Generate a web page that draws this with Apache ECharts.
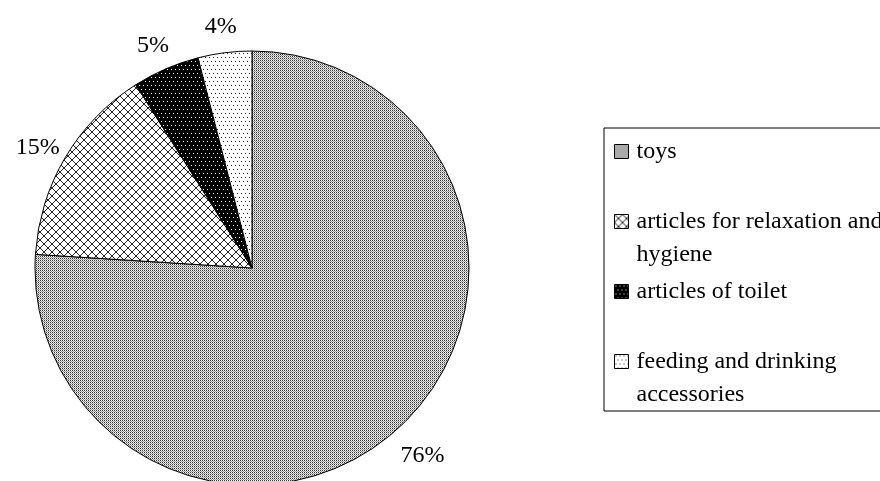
<!DOCTYPE html>
<html>
<head>
<meta charset="utf-8">
<script src="https://cdn.jsdelivr.net/npm/echarts@6/dist/echarts.min.js"></script>
<style>
  html, body { margin: 0; padding: 0; background: #fff; }
  #chart { width: 880px; height: 481px; }
</style>
</head>
<body>
<div id="chart"></div>
<script>
// chart data
var categories = ['toys', 'articles for relaxation and hygiene', 'articles of toilet', 'feeding and drinking accessories']
var shares = [76, 15, 5, 4]
var legendLabels = ['toys', 'articles for relaxation and\nhygiene', 'articles of toilet', 'feeding and drinking\naccessories']

// small canvas tiles used as fill patterns (like the old b/w office charts)
function makeTile(w, h, bg, dots) {
    var c = document.createElement('canvas')
    c.width = w
    c.height = h
    var ctx = c.getContext('2d')
    ctx.fillStyle = bg
    ctx.fillRect(0, 0, w, h)
    dots.forEach(function (d) {
        ctx.fillStyle = d[2]
        ctx.fillRect(d[0], d[1], 1, 1)
    })
    return { image: c, repeat: 'repeat' }
}

function crossTile() {
    var dots = []
    for (var i = 0; i < 8; i++) {
        dots.push([i, i, '#222'])
        dots.push([7 - i, i, '#222'])
    }
    return makeTile(8, 8, '#fff', dots)
}

var patterns = [
    makeTile(2, 2, '#fff', [[0, 0, '#333'], [1, 1, '#999'], [0, 1, '#ddd']]),
    crossTile(),
    makeTile(8, 8, '#000', [[1, 1, '#fff'], [5, 1, '#fff'], [3, 5, '#fff'], [7, 5, '#fff']]),
    makeTile(8, 8, '#fff', [[1, 1, '#222'], [5, 1, '#222'], [3, 5, '#222'], [7, 5, '#222']])
]

var chart = echarts.init(document.getElementById('chart'), null, { renderer: 'canvas' })

var pieData = categories.map(function (name, i) {
    return { name: name, value: shares[i], itemStyle: { color: patterns[i] } }
})

chart.setOption({
    animation: false,
    textStyle: { fontFamily: 'Liberation Serif' },
    legend: {
        orient: 'vertical',
        left: 604,
        top: 128,
        padding: [7, 30, 0, 10],
        borderColor: '#000',
        borderWidth: 1,
        itemWidth: 14,
        itemHeight: 14,
        itemGap: 4,
        icon: 'rect',
        itemStyle: { borderColor: '#000', borderWidth: 1 },
        data: categories,
        // a blank line on top keeps the icon level with the first text line
        formatter: function (name) {
            var text = legendLabels[categories.indexOf(name)]
            return text.indexOf('\n') >= 0 ? ' \n' + text : text
        },
        textStyle: {
            fontFamily: 'Liberation Serif',
            fontSize: 24,
            lineHeight: 33,
            color: '#000',
            padding: [0, 0, 0, 3]
        }
    },
    series: [
        {
            type: 'pie',
            center: [252, 268],
            radius: 217,
            startAngle: 90,
            clockwise: true,
            silent: true,
            label: { show: false },
            labelLine: { show: false },
            itemStyle: { borderColor: '#000', borderWidth: 1 },
            data: pieData
        },
        {
            // transparent ring only to place the percentage labels
            type: 'pie',
            center: [252, 274],
            radius: [236, 256],
            startAngle: 90,
            clockwise: true,
            silent: true,
            itemStyle: { color: 'rgba(0,0,0,0)' },
            label: {
                show: true,
                position: 'inside',
                formatter: '{c}%',
                fontFamily: 'Liberation Serif',
                fontSize: 24,
                color: '#000'
            },
            labelLine: { show: false },
            data: categories.map(function (name, i) {
                return { name: name, value: shares[i] }
            })
        }
    ]
})
</script>
</body>
</html>
